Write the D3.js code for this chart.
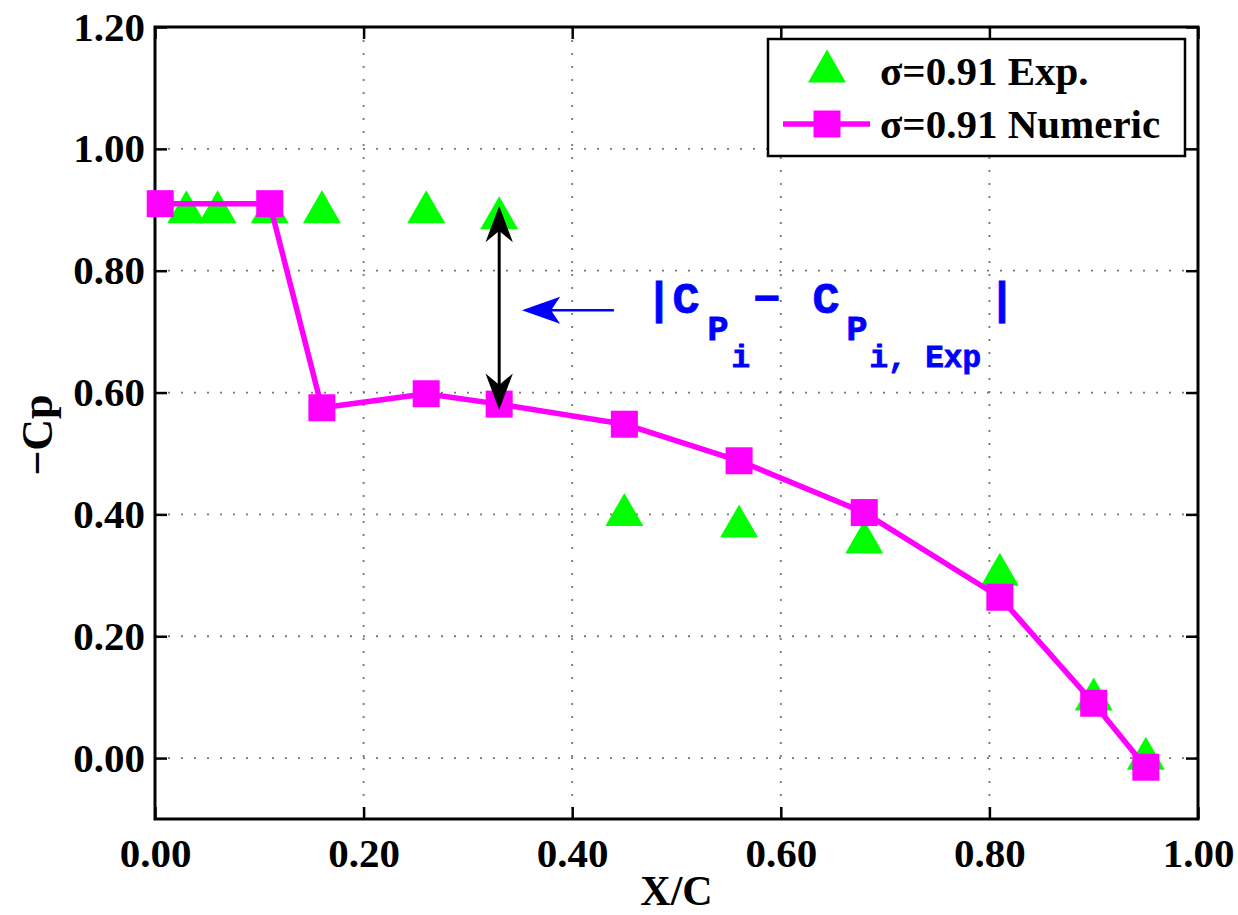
<!DOCTYPE html>
<html>
<head>
<meta charset="utf-8">
<script src="https://cdn.jsdelivr.net/npm/d3@7"></script>
<style>
body { margin: 0; background: #fff; }
svg text { font-family: "Liberation Serif", "Times New Roman", serif; font-weight: bold; fill: #000; }
.axis text { font-size: 41px; }
.axis line { stroke: #000; stroke-width: 2.5px; }
.grid line { stroke: #777; stroke-width: 1.8px; stroke-dasharray: 2, 11; }
.note text { font-family: "Liberation Mono", "Courier New", monospace; fill: #0000ff; stroke: #0000ff; stroke-width: 0.8px; }
</style>
</head>
<body>
<script>
// numeric result (magenta squares)
const xNum = [0.005, 0.11, 0.16, 0.26, 0.33, 0.45, 0.56, 0.68, 0.81, 0.90, 0.95];
const cpNum = [0.91, 0.91, 0.575, 0.598, 0.581, 0.548, 0.488, 0.403, 0.264, 0.09, -0.015];

// experiment (green triangles)
const xExp = [0.03, 0.06, 0.11, 0.16, 0.26, 0.33, 0.45, 0.56, 0.68, 0.81, 0.90, 0.95];
const cpExp = [0.905, 0.905, 0.905, 0.905, 0.905, 0.895, 0.408, 0.389, 0.363, 0.31, 0.105, 0.008];

const xTicks = [0, 0.2, 0.4, 0.6, 0.8, 1.0];
const yTicks = [0, 0.2, 0.4, 0.6, 0.8, 1.0, 1.2];
const legendLabels = ["σ=0.91 Exp.", "σ=0.91 Numeric"];

const margin = {left: 155, right: 40, top: 27, bottom: 96};
const width = 1238 - margin.left - margin.right;
const height = 915 - margin.top - margin.bottom;

const magenta = "#ff00ff";
const green = "#00ff00";

const numRows = xNum.map(function(d, i) { return {x: d, cp: cpNum[i]}; });
const expRows = xExp.map(function(d, i) { return {x: d, cp: cpExp[i]}; });

const x = d3.scaleLinear().domain([0, 1]).range([0, width]);
const y = d3.scaleLinear().domain([-0.1, 1.2]).range([height, 0]);

// triangle centred on its bounding box, like the matlab '^' marker
const tri = {
  draw: function(ctx, size) {
    const w = 38, h = 33;
    ctx.moveTo(0, -h / 2);
    ctx.lineTo(w / 2, h / 2);
    ctx.lineTo(-w / 2, h / 2);
    ctx.closePath();
  }
};
const triPath = d3.symbol().type(tri)();
const sq = 27;

const svg = d3.select("body").append("svg").attr("width", 1238).attr("height", 915);
const chartGroup = svg.append("g").attr("transform", "translate(" + margin.left + "," + margin.top + ")");

// dotted grid
chartGroup.append("g").attr("class", "grid")
  .selectAll("line").data(xTicks.slice(1, -1)).enter().append("line")
  .attr("x1", function(d) { return x(d); }).attr("x2", function(d) { return x(d); })
  .attr("y1", 0).attr("y2", height);
chartGroup.append("g").attr("class", "grid")
  .selectAll("line").data(yTicks.slice(0, -1)).enter().append("line")
  .attr("y1", function(d) { return y(d); }).attr("y2", function(d) { return y(d); })
  .attr("x1", 0).attr("x2", width);

// axes with inner ticks on all four sides
const fmt = d3.format(".2f");
chartGroup.append("g").attr("class", "axis x")
  .attr("transform", "translate(0," + height + ")")
  .call(d3.axisBottom(x).tickValues(xTicks).tickSize(-12).tickPadding(19).tickFormat(fmt));
chartGroup.append("g").attr("class", "axis y")
  .call(d3.axisLeft(y).tickValues(yTicks).tickSize(-12).tickPadding(10).tickFormat(fmt));
chartGroup.append("g").attr("class", "axis")
  .call(d3.axisTop(x).tickValues(xTicks).tickSize(-12).tickFormat(""));
chartGroup.append("g").attr("class", "axis")
  .attr("transform", "translate(" + width + ",0)")
  .call(d3.axisRight(y).tickValues(yTicks).tickSize(-12).tickFormat(""));
chartGroup.selectAll(".axis .domain").remove();

chartGroup.append("rect")
  .attr("width", width).attr("height", height)
  .attr("fill", "none").attr("stroke", "#000").attr("stroke-width", 3);

// axis titles
svg.append("text")
  .attr("x", margin.left + x(0.5)).attr("y", 905)
  .attr("text-anchor", "middle").attr("font-size", 42)
  .text("X/C");
svg.append("text")
  .attr("transform", "translate(52," + (margin.top + y(0.53)) + ") rotate(-90)")
  .attr("text-anchor", "middle").attr("font-size", 44)
  .text("−Cp");

// experiment triangles
chartGroup.append("g").selectAll("path").data(expRows).enter().append("path")
  .attr("d", triPath)
  .attr("transform", function(d) { return "translate(" + x(d.x) + "," + y(d.cp) + ")"; })
  .attr("fill", green);

// numeric line + squares
const line = d3.line()
  .x(function(d) { return x(d.x); })
  .y(function(d) { return y(d.cp); });
chartGroup.append("path")
  .attr("d", line(numRows))
  .attr("fill", "none").attr("stroke", magenta).attr("stroke-width", 5.5)
  .attr("stroke-linejoin", "round");
chartGroup.append("g").selectAll("rect").data(numRows).enter().append("rect")
  .attr("x", function(d) { return x(d.x) - sq / 2; })
  .attr("y", function(d) { return y(d.cp) - sq / 2; })
  .attr("width", sq).attr("height", sq)
  .attr("fill", magenta);

// annotation: double arrow between exp and numeric at x=0.33
function head(tipX, tipY, angle, len, half, notch, color) {
  chartGroup.append("path")
    .attr("d", "M0,0L" + (-half) + "," + len + "L0," + notch + "L" + half + "," + len + "Z")
    .attr("transform", "translate(" + tipX + "," + tipY + ") rotate(" + angle + ")")
    .attr("fill", color).attr("stroke", color).attr("stroke-width", 1.5)
    .attr("stroke-linejoin", "miter");
}
const ax = x(0.33), aTop = y(0.903), aBot = y(0.575);
chartGroup.append("line")
  .attr("x1", ax).attr("x2", ax).attr("y1", aTop + 10).attr("y2", aBot - 10)
  .attr("stroke", "#000").attr("stroke-width", 3);
head(ax, aTop, 0, 32, 12, 22, "#000");
head(ax, aBot, 180, 32, 12, 22, "#000");

// blue pointer arrow
const by = y(0.735);
chartGroup.append("line")
  .attr("x1", x(0.44)).attr("x2", x(0.36)).attr("y1", by).attr("y2", by)
  .attr("stroke", "#0000ff").attr("stroke-width", 2.5);
head(x(0.354), by, -90, 34, 12, 26, "#0000ff");

// |C_Pi - C_Pi,Exp| label
const note = chartGroup.append("g").attr("class", "note");
const bx = x(0.475), bb = y(0.73);
const pieces = [
  {t: "|C", dx: -5, dy: 0, s: 45},
  {t: "P", dx: 57, dy: 27, s: 35},
  {t: "i", dx: 81, dy: 54, s: 31},
  {t: "−", dx: 103, dy: 0, s: 45},
  {t: "C", dx: 162, dy: 0, s: 45},
  {t: "P", dx: 196, dy: 27, s: 35},
  {t: "i, Exp", dx: 219, dy: 54, s: 31},
  {t: "|", dx: 338, dy: 0, s: 45}
];
note.selectAll("text").data(pieces).enter().append("text")
  .attr("x", function(d) { return bx + d.dx; })
  .attr("y", function(d) { return bb + d.dy; })
  .attr("font-size", function(d) { return d.s; })
  .attr("xml:space", "preserve")
  .text(function(d) { return d.t; });

// legend
const lg = svg.append("g").attr("transform", "translate(768,39)");
lg.append("rect").attr("width", 417).attr("height", 117)
  .attr("fill", "#fff").attr("stroke", "#000").attr("stroke-width", 2.5);
lg.append("path").attr("d", triPath).attr("transform", "translate(59,27)").attr("fill", green);
lg.append("line").attr("x1", 15).attr("x2", 102).attr("y1", 85).attr("y2", 85)
  .attr("stroke", magenta).attr("stroke-width", 5.5);
lg.append("rect").attr("x", 59 - sq / 2).attr("y", 85 - sq / 2)
  .attr("width", sq).attr("height", sq).attr("fill", magenta);
lg.selectAll("text.lab").data(legendLabels).enter().append("text")
  .attr("class", "lab")
  .attr("x", 112).attr("y", function(d, i) { return 46 + i * 53; })
  .attr("font-size", 41)
  .text(function(d) { return d; });
</script>
</body>
</html>
